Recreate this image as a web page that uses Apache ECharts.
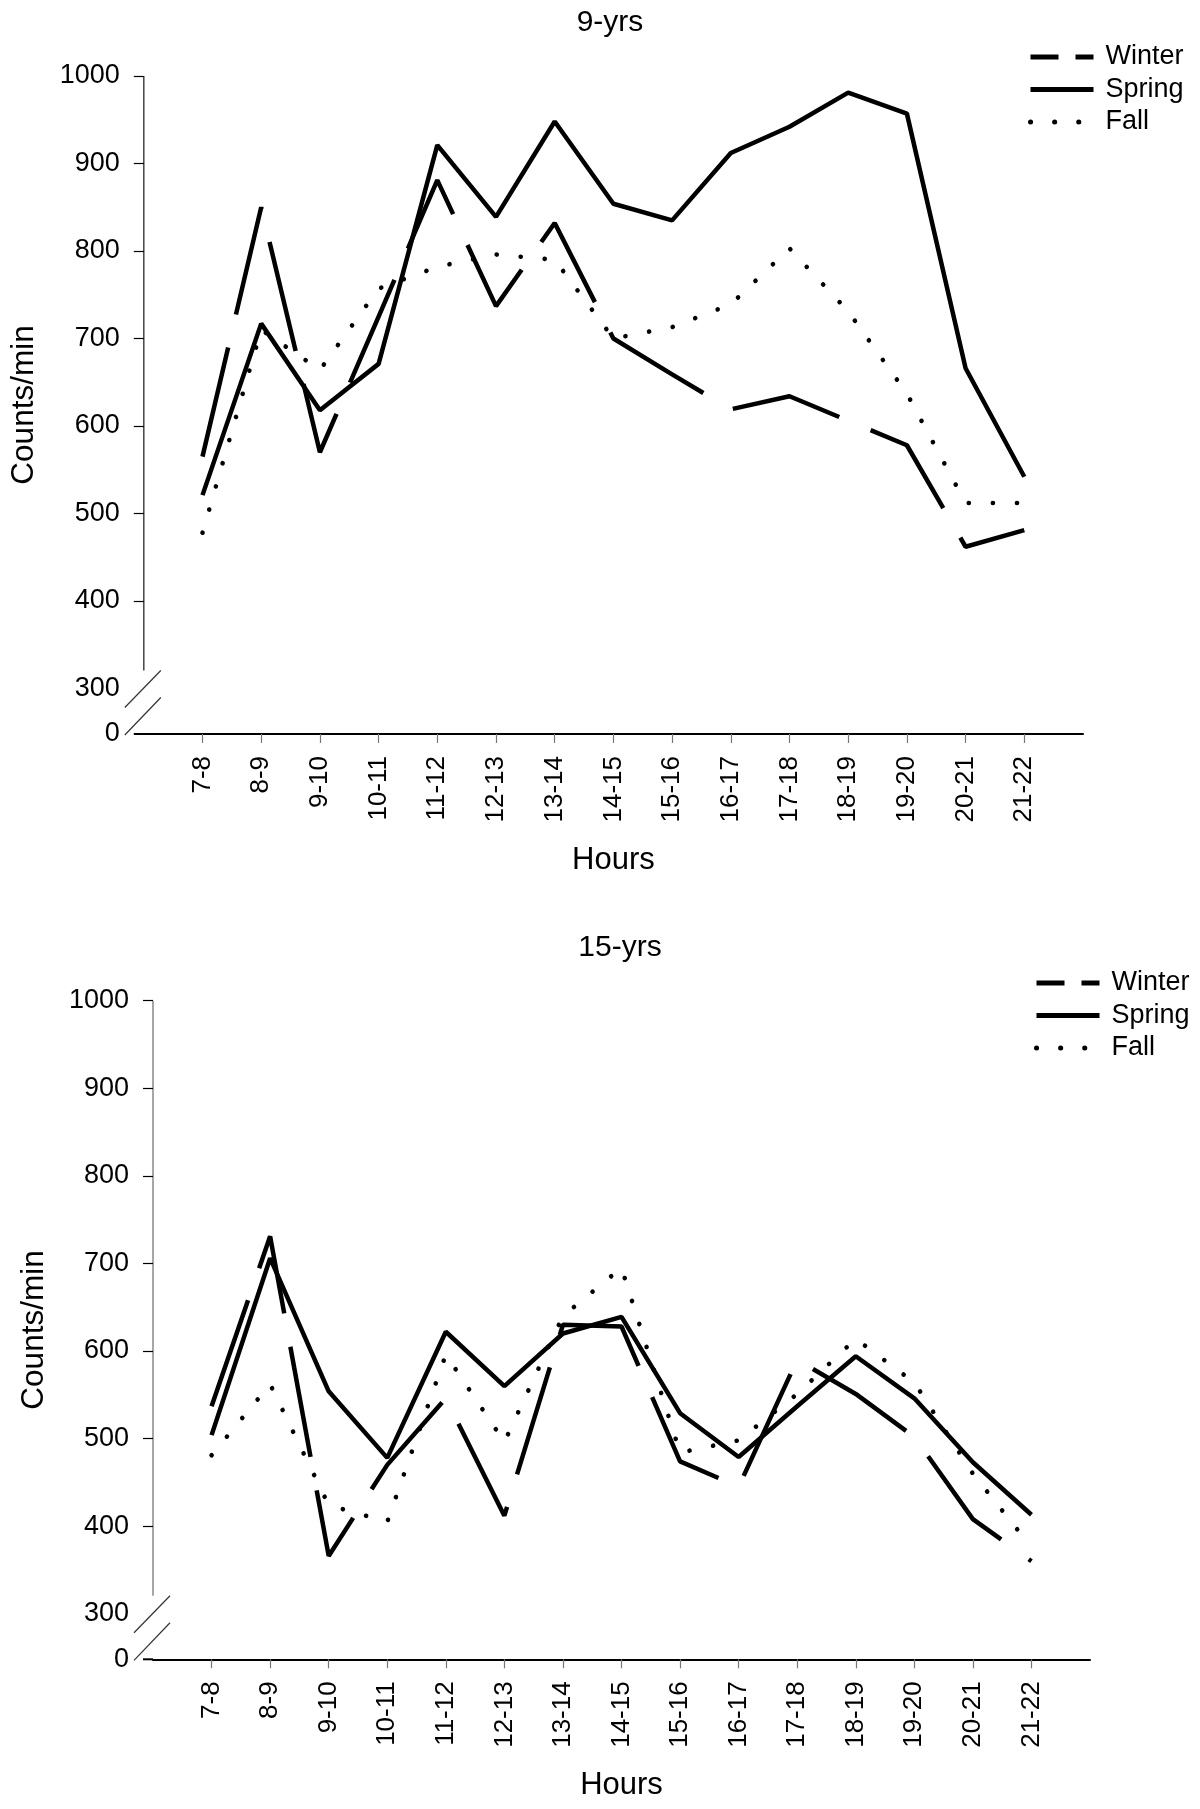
<!DOCTYPE html>
<html><head><meta charset="utf-8">
<script src="https://cdn.jsdelivr.net/npm/echarts@6/dist/echarts.min.js"></script>
<style>html,body{margin:0;padding:0;background:#fff}#c{width:1200px;height:1809px}</style>
</head><body><div id="c"></div>
<script>
// ---- data ----
const hours = ['7-8','8-9','9-10','10-11','11-12','12-13','13-14','14-15','15-16','16-17','17-18','18-19','19-20','20-21','21-22'];
const yTickValues = [300, 400, 500, 600, 700, 800, 900, 1000];
const yBottomLabel = '0';

const winter9 = [565, 850, 570, 725, 881, 737, 832, 700, 659, 619, 634, 606, 578, 462, 481];
const spring9 = [521, 717, 618, 671, 921, 839, 948, 854, 835, 912, 942, 981, 957, 666, 542];
const fall9   = [478, 710, 664, 757, 782, 796, 790, 700, 713, 739, 803, 731, 637, 512, 512];

const winter15 = [537, 731, 366, 470, 546, 412, 630, 628, 474, 445, 590, 551, 502, 408, 360];
const spring15 = [504, 706, 554, 478, 622, 560, 620, 639, 529, 479, 537, 594, 546, 473, 413];
const fall15   = [481, 562, 424, 405, 596, 496, 640, 695, 484, 498, 551, 614, 564, 460, 376];

const titles = ['9-yrs', '15-yrs'];
const seasonNames = ['Winter', 'Spring', 'Fall'];

// ---- styling ----
const FONT = '"Liberation Sans", Arial, Helvetica, sans-serif';
const YMIN = 248, YMAX = 1000;
const pad = arr => [null].concat(arr, [null]);
const catData = [''].concat(hours, ['']);

const lineStyles = {
  Winter: { color: '#000', width: 4.5, type: [112, 34], cap: 'butt' },
  Spring: { color: '#000', width: 4.5, type: 'solid', cap: 'butt' },
  Fall:   { color: '#000', width: 4.6, type: [0.1, 24], cap: 'round' }
};

const grids = [
  { left: 143.8, top: 76, width: 939.2, height: 658 },
  { left: 153, top: 1000.7, width: 937, height: 658.6 }
];

function xAxisFor(i) {
  return {
    gridIndex: i, type: 'category', data: catData, boundaryGap: false,
    name: 'Hours', nameLocation: 'middle', nameGap: 111,
    nameTextStyle: { fontFamily: FONT, fontSize: 31, color: '#000' },
    axisLine: { show: true, lineStyle: { color: '#000', width: 2 } },
    axisTick: { show: true, length: 9, interval: (idx, v) => v !== '', lineStyle: { color: '#777', width: 1.2 } },
    axisLabel: { show: true, rotate: 90, margin: 22, fontFamily: FONT, fontSize: 26, color: '#000',
                 interval: (idx, v) => v !== '' },
    splitLine: { show: false }
  };
}
function yAxisFor(i) {
  return {
    gridIndex: i, type: 'value', min: YMIN, max: YMAX,
    name: 'Counts/min', nameLocation: 'middle', nameGap: 103, nameRotate: 90,
    nameTextStyle: { fontFamily: FONT, fontSize: 31.5, color: '#000' },
    axisLine: { show: false },
    axisTick: { show: true, length: 10, customValues: yTickValues.slice(1), lineStyle: { color: '#000', width: 1.2 } },
    axisLabel: { show: true, margin: 24, fontFamily: FONT, fontSize: 27, color: '#000',
                 customValues: [YMIN].concat(yTickValues),
                 formatter: v => (v === YMIN ? yBottomLabel : String(v)) },
    splitLine: { show: false }
  };
}
function legendFor(i, left, top) {
  return {
    left: left, top: top, orient: 'vertical', padding: 0, itemWidth: 63, itemHeight: 14, itemGap: 4.5,
    textStyle: { fontFamily: FONT, fontSize: 27, color: '#000', lineHeight: 28, padding: [0, 0, 0, 7] },
    itemStyle: { color: 'rgba(0,0,0,0)', borderWidth: 0, opacity: 0 },
    data: [
      { name: 'Winter', lineStyle: { type: [28, 17], width: 5, cap: 'butt' } },
      { name: 'Spring', lineStyle: { width: 5 } },
      { name: 'Fall', lineStyle: { type: [0.1, 24], width: 5, cap: 'round' } }
    ]
  };
}
function seriesFor(i, arrs) {
  return seasonNames.map((n, k) => ({
    name: n, type: 'line', xAxisIndex: i, yAxisIndex: i,
    data: pad(arrs[k]), symbol: 'none', connectNulls: false,
    lineStyle: lineStyles[n], itemStyle: { color: '#000' }, z: 3 - k
  }));
}

const chart = echarts.init(document.getElementById('c'), null, { renderer: 'canvas' });
chart.setOption({
  animation: false,
  backgroundColor: '#fff',
  title: [
    { text: titles[0], left: 605, top: 3, textAlign: 'center', textStyle: { fontFamily: FONT, fontSize: 30, fontWeight: 'normal', color: '#000' } },
    { text: titles[1], left: 615, top: 928, textAlign: 'center', textStyle: { fontFamily: FONT, fontSize: 30, fontWeight: 'normal', color: '#000' } }
  ],
  legend: [legendFor(0, 1028, 43), legendFor(1, 1034, 969)],
  grid: grids,
  xAxis: [xAxisFor(0), xAxisFor(1)],
  yAxis: [yAxisFor(0), yAxisFor(1)],
  series: seriesFor(0, [winter9, spring9, fall9]).concat(seriesFor(1, [winter15, spring15, fall15]))
});

// axis lines with break marks (decoration)
const gfx = [];
const axisColors = ['#444', '#888'];
[0, 1].forEach(i => {
  const gx = chart.convertToPixel({ xAxisIndex: i }, 0);
  const yTop = chart.convertToPixel({ yAxisIndex: i }, YMAX);
  const y300 = chart.convertToPixel({ yAxisIndex: i }, 300);
  const yBase = chart.convertToPixel({ yAxisIndex: i }, YMIN);
  const ls = { stroke: axisColors[i], lineWidth: 1.5 };
  gfx.push({ type: 'line', silent: true, shape: { x1: gx, y1: yTop, x2: gx, y2: y300 - 18 }, style: ls });
  gfx.push({ type: 'line', silent: true, shape: { x1: gx + 17, y1: y300 - 18, x2: gx - 19, y2: y300 + 19 }, style: { stroke: '#333', lineWidth: 1.2 } });
  gfx.push({ type: 'line', silent: true, shape: { x1: gx + 17, y1: y300 + 9, x2: gx - 19, y2: yBase + 1 }, style: { stroke: '#333', lineWidth: 1.2 } });
  gfx.push({ type: 'line', silent: true, shape: { x1: gx - 10, y1: yBase, x2: gx, y2: yBase }, style: { stroke: '#000', lineWidth: 2 } });
});
chart.setOption({ graphic: gfx });
</script>
</body></html>
